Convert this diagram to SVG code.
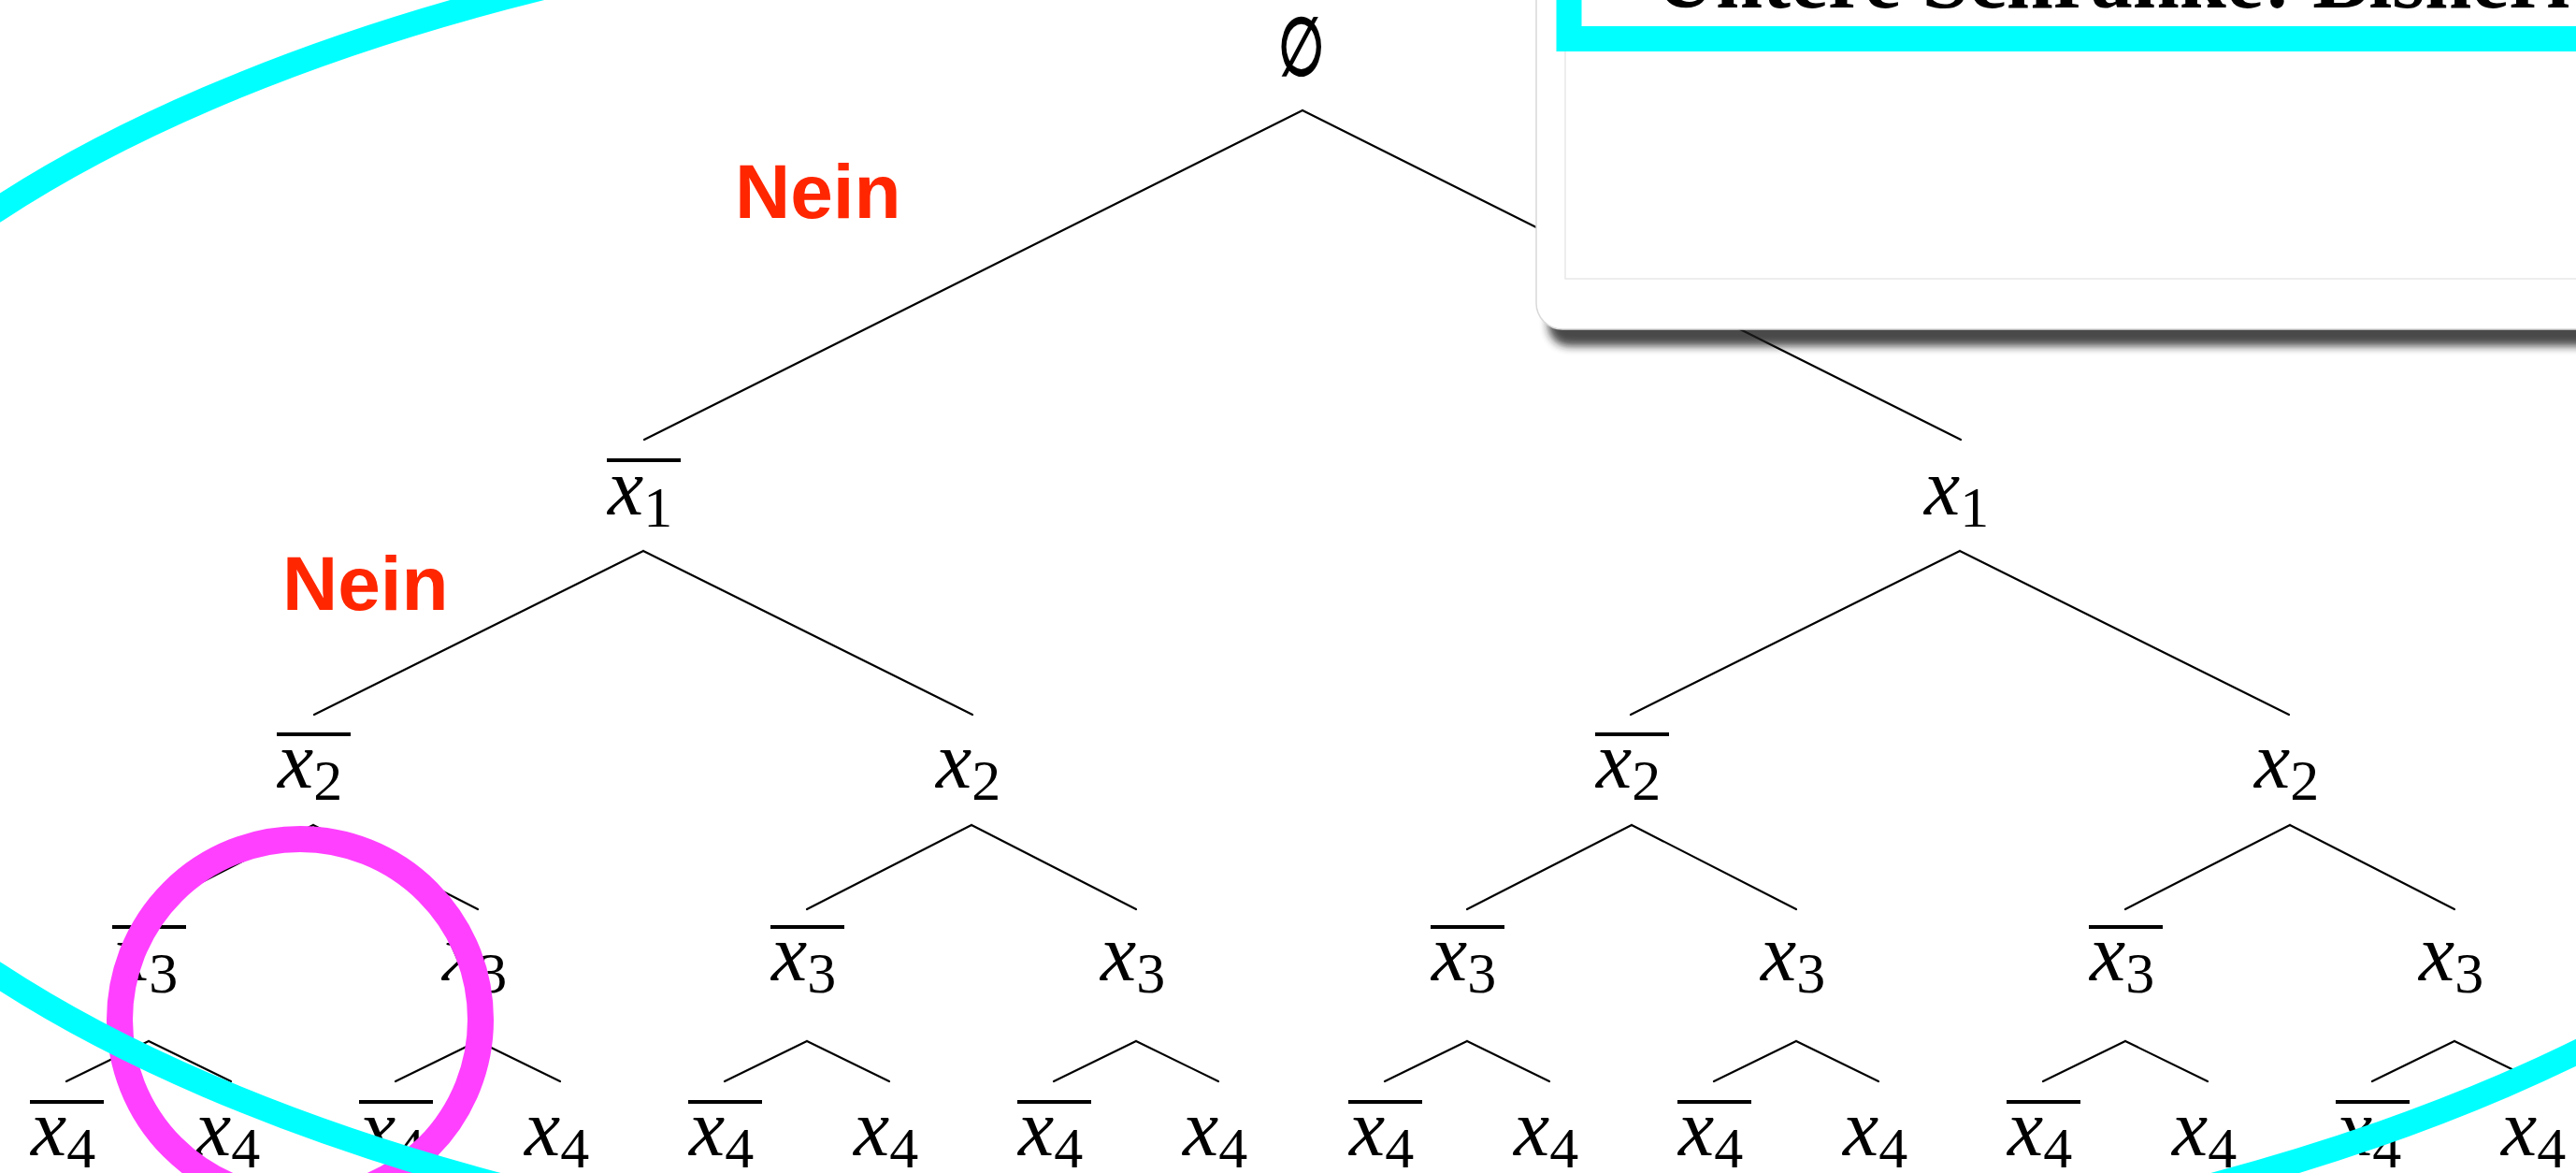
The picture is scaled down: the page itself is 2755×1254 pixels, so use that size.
<svg xmlns="http://www.w3.org/2000/svg" width="2755" height="1254" viewBox="0 0 2755 1254">
<defs>
<style>
.edge{stroke:#000;stroke-width:2.2;fill:none;stroke-linecap:round}
.lbl{font-family:"Liberation Serif","Times New Roman",serif;font-size:86px;fill:#000}
.v{font-style:italic}
.sub{font-size:62px}
.bar{stroke:#000;stroke-width:4}
.nein{font-family:"Liberation Sans",Arial,sans-serif;font-weight:bold;font-size:82px;fill:#FF2600}
.ring{fill:none}
</style>
<filter id="blur" x="-5%" y="-50%" width="110%" height="200%"><feGaussianBlur stdDeviation="5"/></filter>
</defs>
<rect width="2755" height="1254" fill="#fff"/>

<g id="connectors">
<path class="edge" d="M1393 118L689 470M1393 118L2097 470"/>
<path class="edge" d="M688 589L336 764M688 589L1040 764M2096 589L1744 764M2096 589L2448 764"/>
<path class="edge" d="M335 882L159 972M335 882L511 972M1039 882L863 972M1039 882L1215 972M1745 882L1569 972M1745 882L1921 972M2449 882L2273 972M2449 882L2625 972"/>
<path class="edge" d="M159 1113L71 1156M159 1113L247 1156M511 1113L423 1156M511 1113L599 1156M863 1113L775 1156M863 1113L951 1156M1215 1113L1127 1156M1215 1113L1303 1156M1569 1113L1481 1156M1569 1113L1657 1156M1921 1113L1833 1156M1921 1113L2009 1156M2273 1113L2185 1156M2273 1113L2361 1156M2625 1113L2537 1156M2625 1113L2713 1156"/>
</g>

<g id="root"><text class="lbl" transform="translate(1392 80) scale(0.66 1)" x="0" y="0" text-anchor="middle" font-size="90" stroke="#000" stroke-width="2.5">∅</text></g>

<g id="n1a"><line class="bar" x1="649" y1="492" x2="728" y2="492"/><text class="lbl" x="650" y="550"><tspan class="v">x</tspan><tspan class="sub" dy="13">1</tspan></text></g>
<g id="n1b"><text class="lbl" x="2058" y="550"><tspan class="v">x</tspan><tspan class="sub" dy="13">1</tspan></text></g>

<g id="n2a"><line class="bar" x1="296" y1="785" x2="375" y2="785"/><text class="lbl" x="297" y="842"><tspan class="v">x</tspan><tspan class="sub" dy="13">2</tspan></text></g>
<g id="n2b"><text class="lbl" x="1001" y="842"><tspan class="v">x</tspan><tspan class="sub" dy="13">2</tspan></text></g>
<g id="n2c"><line class="bar" x1="1706" y1="785" x2="1785" y2="785"/><text class="lbl" x="1707" y="842"><tspan class="v">x</tspan><tspan class="sub" dy="13">2</tspan></text></g>
<g id="n2d"><text class="lbl" x="2411" y="842"><tspan class="v">x</tspan><tspan class="sub" dy="13">2</tspan></text></g>

<g id="n3a"><line class="bar" x1="120" y1="991" x2="199" y2="991"/><text class="lbl" x="121" y="1048"><tspan class="v">x</tspan><tspan class="sub" dy="13">3</tspan></text></g>
<g id="n3b"><text class="lbl" x="473" y="1048"><tspan class="v">x</tspan><tspan class="sub" dy="13">3</tspan></text></g>
<g id="n3c"><line class="bar" x1="824" y1="991" x2="903" y2="991"/><text class="lbl" x="825" y="1048"><tspan class="v">x</tspan><tspan class="sub" dy="13">3</tspan></text></g>
<g id="n3d"><text class="lbl" x="1177" y="1048"><tspan class="v">x</tspan><tspan class="sub" dy="13">3</tspan></text></g>
<g id="n3e"><line class="bar" x1="1530" y1="991" x2="1609" y2="991"/><text class="lbl" x="1531" y="1048"><tspan class="v">x</tspan><tspan class="sub" dy="13">3</tspan></text></g>
<g id="n3f"><text class="lbl" x="1883" y="1048"><tspan class="v">x</tspan><tspan class="sub" dy="13">3</tspan></text></g>
<g id="n3g"><line class="bar" x1="2234" y1="991" x2="2313" y2="991"/><text class="lbl" x="2235" y="1048"><tspan class="v">x</tspan><tspan class="sub" dy="13">3</tspan></text></g>
<g id="n3h"><text class="lbl" x="2587" y="1048"><tspan class="v">x</tspan><tspan class="sub" dy="13">3</tspan></text></g>

<g id="n4a"><line class="bar" x1="32" y1="1178" x2="111" y2="1178"/><text class="lbl" x="33" y="1235"><tspan class="v">x</tspan><tspan class="sub" dy="13">4</tspan></text></g>
<g id="n4b"><text class="lbl" x="209" y="1235"><tspan class="v">x</tspan><tspan class="sub" dy="13">4</tspan></text></g>
<g id="n4c"><line class="bar" x1="384" y1="1178" x2="463" y2="1178"/><text class="lbl" x="385" y="1235"><tspan class="v">x</tspan><tspan class="sub" dy="13">4</tspan></text></g>
<g id="n4d"><text class="lbl" x="561" y="1235"><tspan class="v">x</tspan><tspan class="sub" dy="13">4</tspan></text></g>
<g id="n4e"><line class="bar" x1="736" y1="1178" x2="815" y2="1178"/><text class="lbl" x="737" y="1235"><tspan class="v">x</tspan><tspan class="sub" dy="13">4</tspan></text></g>
<g id="n4f"><text class="lbl" x="913" y="1235"><tspan class="v">x</tspan><tspan class="sub" dy="13">4</tspan></text></g>
<g id="n4g"><line class="bar" x1="1088" y1="1178" x2="1167" y2="1178"/><text class="lbl" x="1089" y="1235"><tspan class="v">x</tspan><tspan class="sub" dy="13">4</tspan></text></g>
<g id="n4h"><text class="lbl" x="1265" y="1235"><tspan class="v">x</tspan><tspan class="sub" dy="13">4</tspan></text></g>
<g id="n4i"><line class="bar" x1="1442" y1="1178" x2="1521" y2="1178"/><text class="lbl" x="1443" y="1235"><tspan class="v">x</tspan><tspan class="sub" dy="13">4</tspan></text></g>
<g id="n4j"><text class="lbl" x="1619" y="1235"><tspan class="v">x</tspan><tspan class="sub" dy="13">4</tspan></text></g>
<g id="n4k"><line class="bar" x1="1794" y1="1178" x2="1873" y2="1178"/><text class="lbl" x="1795" y="1235"><tspan class="v">x</tspan><tspan class="sub" dy="13">4</tspan></text></g>
<g id="n4l"><text class="lbl" x="1971" y="1235"><tspan class="v">x</tspan><tspan class="sub" dy="13">4</tspan></text></g>
<g id="n4m"><line class="bar" x1="2146" y1="1178" x2="2225" y2="1178"/><text class="lbl" x="2147" y="1235"><tspan class="v">x</tspan><tspan class="sub" dy="13">4</tspan></text></g>
<g id="n4n"><text class="lbl" x="2323" y="1235"><tspan class="v">x</tspan><tspan class="sub" dy="13">4</tspan></text></g>
<g id="n4o"><line class="bar" x1="2498" y1="1178" x2="2577" y2="1178"/><text class="lbl" x="2499" y="1235"><tspan class="v">x</tspan><tspan class="sub" dy="13">4</tspan></text></g>
<g id="n4p"><text class="lbl" x="2675" y="1235"><tspan class="v">x</tspan><tspan class="sub" dy="13">4</tspan></text></g>

<g id="labels">
<text class="nein" x="786" y="233">Nein</text>
<text class="nein" x="302" y="652">Nein</text>
</g>

<g id="annotations">
<circle class="ring" cx="321" cy="1090" r="193" stroke="#FF40FF" stroke-width="28"/>
<ellipse class="ring" cx="1450" cy="633" rx="1737" ry="746" stroke="#00FFFF" stroke-width="26"/>
</g>

<g id="panel">
<rect x="1656" y="296" width="1200" height="74" rx="22" fill="#1a1a1a" opacity="0.8" filter="url(#blur)"/>
<rect x="1643" y="-60" width="1200" height="412" rx="28" fill="#fff" stroke="#d9d9d9" stroke-width="1.5"/>
<rect x="1674" y="-20" width="1200" height="318" fill="#fff" stroke="#e8e8e8" stroke-width="1.5"/>
<rect x="1678" y="-80" width="1200" height="121.5" fill="#fff" stroke="#00FFFF" stroke-width="27"/>
<text x="1770" y="8" font-family="Liberation Serif,serif" font-weight="bold" font-size="90" fill="#000">Untere Schranke: Bisheri</text>
</g>
</svg>
